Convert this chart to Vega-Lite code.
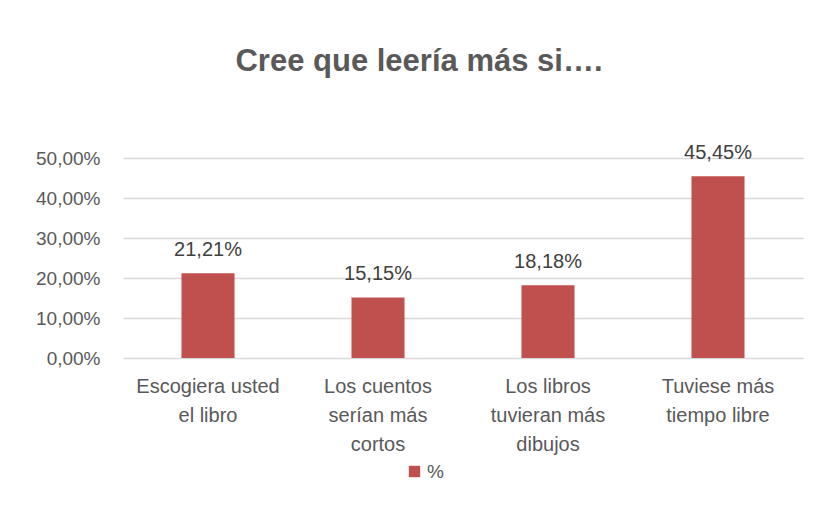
{
  "$schema": "https://vega.github.io/schema/vega-lite/v6.json",
  "width": 680,
  "height": 200,
  "autosize": {"type": "none"},
  "padding": {"left": 123, "top": 158, "right": 19, "bottom": 173},
  "background": "white",
  "title": {
    "text": "Cree que leería más si….",
    "anchor": "middle",
    "dx": -44,
    "offset": 65,
    "font": "Liberation Sans",
    "fontSize": 31,
    "fontWeight": "bold",
    "color": "#595959"
  },
  "config": {
    "locale": {
      "number": {"decimal": ",", "thousands": ".", "grouping": [3], "currency": ["", " €"]}
    },
    "view": {"stroke": null},
    "axis": {
      "labelFont": "Liberation Sans",
      "labelFontSize": 19,
      "labelColor": "#595959",
      "domain": false,
      "ticks": false,
      "title": null
    }
  },
  "data": {
    "values": [
      {"categoria": "Escogiera usted el libro", "serie": "%", "valor": 0.2121},
      {"categoria": "Los cuentos serían más cortos", "serie": "%", "valor": 0.1515},
      {"categoria": "Los libros tuvieran más dibujos", "serie": "%", "valor": 0.1818},
      {"categoria": "Tuviese más tiempo libre", "serie": "%", "valor": 0.4545}
    ]
  },
  "encoding": {
    "x": {
      "field": "categoria",
      "type": "nominal",
      "sort": null,
      "scale": {"paddingInner": 0.688, "paddingOuter": 0.344},
      "axis": {
        "labelAngle": 0,
        "labelPadding": 18,
        "labelLineHeight": 29,
        "labelLimit": 300,
        "grid": false,
        "labelFontSize": 20,
        "labelExpr": "{'Escogiera usted el libro': ['Escogiera usted', 'el libro'], 'Los cuentos serían más cortos': ['Los cuentos', 'serían más', 'cortos'], 'Los libros tuvieran más dibujos': ['Los libros', 'tuvieran más', 'dibujos'], 'Tuviese más tiempo libre': ['Tuviese más', 'tiempo libre']}[datum.label]"
      }
    },
    "y": {
      "field": "valor",
      "type": "quantitative",
      "scale": {"domain": [0, 0.5], "nice": false},
      "axis": {
        "format": ".2%",
        "values": [0, 0.1, 0.2, 0.3, 0.4, 0.5],
        "labelPadding": 23,
        "gridColor": "#d9d9d9",
        "gridWidth": 1.3
      }
    }
  },
  "layer": [
    {
      "mark": {"type": "bar"},
      "encoding": {
        "color": {
          "field": "serie",
          "type": "nominal",
          "scale": {"range": ["#C0504D"]},
          "legend": {
            "title": null,
            "orient": "none",
            "legendX": 282,
            "legendY": 304,
            "symbolType": "square",
            "symbolSize": 130,
            "symbolStrokeWidth": 0,
            "labelFont": "Liberation Sans",
            "labelFontSize": 19,
            "labelColor": "#595959",
            "labelOffset": 3
          }
        }
      }
    },
    {
      "mark": {
        "type": "text",
        "baseline": "alphabetic",
        "dy": -17,
        "font": "Liberation Sans",
        "fontSize": 20,
        "color": "#404040"
      },
      "encoding": {
        "text": {"field": "valor", "type": "quantitative", "format": ".2%"}
      }
    }
  ]
}
